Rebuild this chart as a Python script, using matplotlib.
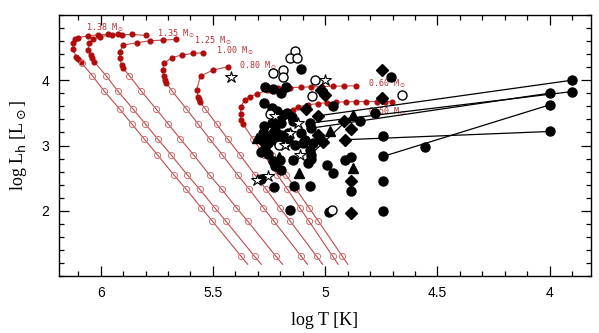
import matplotlib
matplotlib.use("Agg")
import matplotlib.pyplot as plt
from matplotlib.ticker import MultipleLocator

# ---- evolutionary tracks (red) ----
track_masses = ["1.38", "1.35", "1.25", "1.00", "0.80", "0.60", "0.50"]

# post-AGB part (filled red dots), from the start of the track to the knee
hot_logT = [
    [5.923, 5.968, 6.012, 6.056, 6.102, 6.115, 6.125, 6.122, 6.110, 6.100, 6.089],
    [5.799, 5.861, 5.906, 5.950, 6.004, 6.033, 6.051, 6.056, 6.045, 6.038, 6.029],
    [5.665, 5.722, 5.781, 5.840, 5.900, 5.915, 5.915, 5.907, 5.900],
    [5.544, 5.588, 5.640, 5.684, 5.719, 5.724, 5.719, 5.714, 5.707],
    [5.432, 5.499, 5.555, 5.573, 5.566, 5.561, 5.558],
    [4.864, 4.915, 4.966, 5.016, 5.061, 5.106, 5.158, 5.211, 5.260, 5.305,
     5.336, 5.358, 5.376, 5.377, 5.373, 5.366],
    [4.703, 4.735, 4.770, 4.816, 4.864, 4.908, 4.950, 4.993, 5.033, 5.077,
     5.122, 5.144, 5.189, 5.238, 5.269, 5.282],
]
hot_logL = [
    [4.702, 4.702, 4.696, 4.681, 4.653, 4.626, 4.574, 4.473, 4.360, 4.321, 4.284],
    [4.687, 4.702, 4.699, 4.692, 4.669, 4.626, 4.565, 4.463, 4.386, 4.336, 4.284],
    [4.626, 4.615, 4.605, 4.574, 4.539, 4.437, 4.336, 4.234, 4.183],
    [4.421, 4.412, 4.386, 4.345, 4.260, 4.157, 4.066, 4.005, 3.954],
    [4.208, 4.157, 4.066, 3.852, 3.750, 3.710, 3.673],
    [3.913, 3.913, 3.908, 3.902, 3.898, 3.893, 3.887, 3.875, 3.846, 3.786,
     3.750, 3.699, 3.597, 3.481, 3.394, 3.328],
    [3.673, 3.673, 3.673, 3.673, 3.673, 3.669, 3.664, 3.658, 3.643, 3.623,
     3.592, 3.547, 3.470, 3.363, 3.241, 3.089],
]

# cooling part (open crossed circles), last value is the end of the line
cool_logT = [
    [6.084, 6.037, 5.986, 5.916, 5.861, 5.806, 5.748, 5.674, 5.619, 5.553, 5.502, 5.374, 5.345],
    [5.976, 5.925, 5.856, 5.801, 5.746, 5.687, 5.614, 5.559, 5.493, 5.442, 5.314, 5.285],
    [5.872, 5.821, 5.753, 5.699, 5.645, 5.587, 5.515, 5.461, 5.396, 5.345, 5.219, 5.190],
    [5.683, 5.618, 5.566, 5.514, 5.459, 5.390, 5.338, 5.276, 5.228, 5.106, 5.079],
    [5.534, 5.484, 5.434, 5.380, 5.313, 5.263, 5.203, 5.155, 5.038, 5.011],
    [5.321, 5.273, 5.213, 5.168, 5.114, 5.072, 4.966, 4.942],
    [5.236, 5.175, 5.129, 5.073, 5.030, 4.923, 4.899],
]
cool_logL = [
    [4.26, 4.07, 3.84, 3.56, 3.33, 3.10, 2.86, 2.55, 2.33, 2.05, 1.84, 1.30, 1.18],
    [4.07, 3.84, 3.56, 3.33, 3.10, 2.86, 2.55, 2.33, 2.05, 1.84, 1.30, 1.18],
    [4.07, 3.84, 3.56, 3.33, 3.10, 2.86, 2.55, 2.33, 2.05, 1.84, 1.30, 1.18],
    [3.84, 3.56, 3.33, 3.10, 2.86, 2.55, 2.33, 2.05, 1.84, 1.30, 1.18],
    [3.56, 3.33, 3.10, 2.86, 2.55, 2.33, 2.05, 1.84, 1.30, 1.18],
    [3.10, 2.86, 2.55, 2.33, 2.05, 1.84, 1.30, 1.18],
    [2.86, 2.55, 2.33, 2.05, 1.84, 1.30, 1.18],
]

label_logT = [6.066, 5.751, 5.585, 5.485, 5.385, 4.808, 4.808]
label_logL = [4.80, 4.72, 4.60, 4.45, 4.22, 3.95, 3.51]

# ---- observed objects (black) ----
fc_logT = [5.109, 4.708, 5.267, 5.233, 5.198, 5.173, 5.274, 4.966, 4.779, 4.844,
           5.239, 5.214, 5.170, 5.187, 5.150, 5.210, 5.143, 5.195, 5.273, 5.239,
           5.276, 5.224, 5.269, 5.232, 5.195, 5.165, 5.106, 5.247, 5.165, 5.276,
           5.224, 5.254, 5.180, 5.135, 5.098, 5.054, 5.091, 5.069, 5.061, 5.269,
           5.284, 5.254, 5.232, 5.202, 5.143, 5.224, 5.195, 5.069, 5.065, 5.061,
           5.077, 4.994, 4.965, 4.913, 4.886, 4.741, 4.557, 4.741, 5.284, 5.228,
           5.140, 5.069, 4.886, 4.741, 5.158, 4.983, 4.741,
           3.902, 3.902, 4.000, 4.000, 4.000]
fc_logL = [4.173, 4.046, 3.893, 3.863, 3.798, 3.902, 3.658, 3.608, 3.505, 3.383,
           3.573, 3.531, 3.496, 3.470, 3.444, 3.394, 3.383, 3.344, 3.292, 3.344,
           3.191, 3.241, 3.165, 3.191, 3.165, 3.191, 3.191, 3.115, 3.099, 3.063,
           3.089, 3.038, 3.038, 3.012, 3.038, 3.038, 3.089, 3.344, 3.267, 2.962,
           2.905, 2.875, 2.757, 2.783, 2.783, 2.681, 2.631, 2.936, 2.860, 2.794,
           2.730, 2.699, 2.580, 2.773, 2.821, 2.834, 2.977, 3.150, 2.489, 2.363,
           2.376, 2.379, 2.310, 2.463, 2.005, 1.979, 1.997,
           4.000, 3.826, 3.802, 3.623, 3.215]

oc_logT = [5.135, 5.155, 5.126, 5.231, 5.189, 5.187, 5.046, 5.060, 4.659, 5.247, 5.204, 4.971]
oc_logL = [4.452, 4.336, 4.336, 4.111, 4.150, 4.043, 4.005, 3.760, 3.776, 3.485, 3.005, 2.005]

star_logT = [5.420, 5.002, 5.113, 5.305, 5.256, 5.122, 5.158, 5.224, 5.180]
star_logL = [4.046, 4.005, 2.852, 2.478, 2.531, 3.348, 3.191, 3.455, 3.012]

tri_logT = [4.877, 4.980, 5.305, 5.207, 4.877, 5.118]
tri_logL = [3.470, 3.226, 3.115, 2.829, 2.656, 2.577]

dia_logT = [4.745, 4.745, 5.020, 5.000, 5.086, 5.032, 4.916, 4.886, 5.032, 5.009, 4.913, 4.886, 4.886]
dia_logL = [4.157, 3.725, 3.852, 3.768, 3.562, 3.455, 3.371, 3.256, 3.157, 3.058, 3.089, 2.463, 1.959]

# pairs of points joined by a line (cool end, hot end)
link_logT = [(3.902, 5.032), (3.902, 5.069), (4.000, 5.061), (4.000, 4.741), (4.000, 4.913), (4.877, 5.065)]
link_logL = [(4.000, 3.455), (3.826, 3.344), (3.802, 3.267), (3.623, 2.834), (3.215, 3.089), (3.470, 2.860)]

# ---- plotting ----
fig = plt.figure(figsize=(5.99, 3.33), dpi=100)
ax = fig.add_axes([0.098, 0.171, 0.889, 0.784])

dot_red = "#b00c0c"
line_red = "#c24a4a"
ring_red = "#d27070"

for i, m in enumerate(track_masses):
    ax.plot(hot_logT[i] + cool_logT[i], hot_logL[i] + cool_logL[i],
            color=line_red, lw=0.8, zorder=1)
    ax.plot(hot_logT[i], hot_logL[i], "o", ms=3.4, color=dot_red, mec=dot_red, zorder=2)
    ax.plot(cool_logT[i][:-1], cool_logL[i][:-1], "o", ms=4.4, mfc="none",
            mec=ring_red, mew=0.7, zorder=2)
    ax.text(label_logT[i], label_logL[i], m + r" M$_\odot$", color="#b83030",
            fontsize=6, family="DejaVu Sans Mono", ha="left", va="center", zorder=1)

for lt, ll in zip(link_logT, link_logL):
    ax.plot(lt, ll, color="black", lw=0.9, zorder=3)

ax.plot(fc_logT, fc_logL, "o", ms=6.5, color="black", zorder=4)
ax.plot(dia_logT, dia_logL, "D", ms=6.5, color="black", zorder=4)
ax.plot(tri_logT, tri_logL, "^", ms=6.5, color="black", zorder=4)
ax.plot(oc_logT, oc_logL, "o", ms=6.5, mfc="white", mec="black", mew=1.0, zorder=5)
ax.plot(star_logT, star_logL, "*", ms=9, mfc="white", mec="black", mew=0.8, zorder=5)

ax.set_xlim(6.187, 3.815)
ax.set_ylim(1.0, 5.0)
ax.xaxis.set_major_locator(MultipleLocator(0.5))
ax.xaxis.set_minor_locator(MultipleLocator(0.1))
ax.yaxis.set_major_locator(MultipleLocator(1))
ax.yaxis.set_minor_locator(MultipleLocator(0.2))
ax.set_xticks([6, 5.5, 5, 4.5, 4])
ax.set_xticklabels(["6", "5.5", "5", "4.5", "4"])
ax.set_yticks([2, 3, 4])
ax.set_yticklabels(["2", "3", "4"])
ax.tick_params(which="both", direction="in", top=True, right=True, width=0.9)
ax.tick_params(which="major", length=7, pad=7, labelsize=10)
ax.tick_params(which="minor", length=3.5)
for lab in ax.get_xticklabels() + ax.get_yticklabels():
    lab.set_family("Liberation Sans")
for s in ax.spines.values():
    s.set_linewidth(1.0)

ax.set_xlabel("log T [K]", family="Liberation Serif", fontsize=13, labelpad=9)
ax.set_ylabel(r"log L$_{\rm h}$ [L$_\odot$]", family="Liberation Serif", fontsize=13, labelpad=9)

fig.savefig("out.png", dpi=100)
